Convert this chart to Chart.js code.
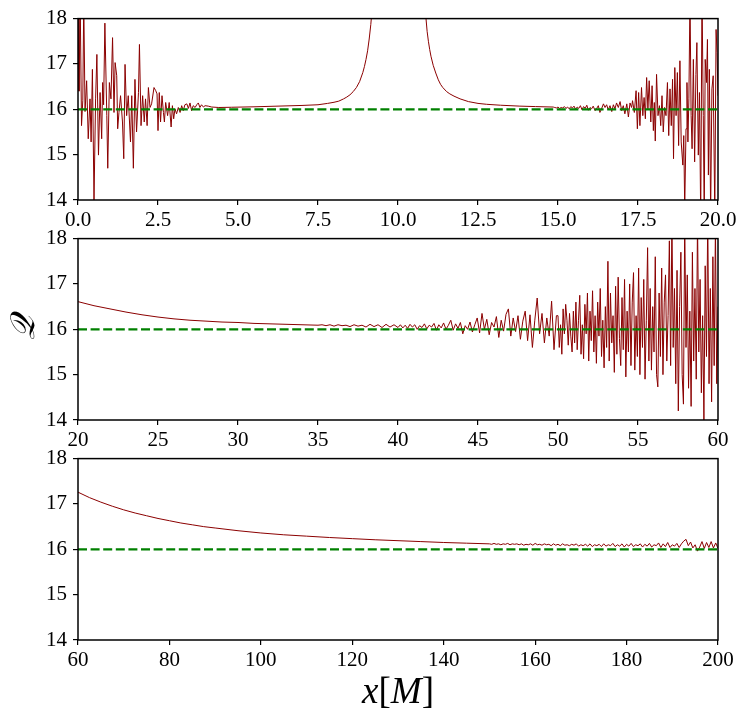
<!DOCTYPE html>
<html>
<head>
<meta charset="utf-8">
<script src="https://cdn.jsdelivr.net/npm/chart.js@4.4.0/dist/chart.umd.min.js"></script>
<style>
  html, body { margin: 0; padding: 0; background: #fff; }
  #wrap { position: relative; width: 747px; height: 721px; overflow: hidden; background: #fff; }
  canvas { position: absolute; left: 0; }
  #ylab { position: absolute; left: 22px; top: 328px; transform: translate(-50%, -50%) rotate(-90deg);
          font-family: 'DejaVu Serif', 'Liberation Serif', serif; font-style: italic; font-size: 34px; line-height: 34px; color: #000; white-space: nowrap; }
  #xlab { position: absolute; left: 78px; width: 640px; top: 670px; text-align: center;
          font-family: 'Liberation Serif', 'DejaVu Serif', serif; font-size: 37px; line-height: 42px; color: #000; }
</style>
</head>
<body>
<div id="wrap">
  <canvas id="c1" width="747" height="230" style="top:0px;width:747px;height:230px"></canvas>
  <canvas id="c2" width="747" height="230" style="top:220px;width:747px;height:230px"></canvas>
  <canvas id="c3" width="747" height="230" style="top:440px;width:747px;height:230px"></canvas>
  <div id="ylab">𝒬</div>
  <div id="xlab"><i>x</i>[<i>M</i>]</div>
</div>
<script>
// ---------------- data ----------------
const refLevel = 16;
const yTicks = [14, 15, 16, 17, 18];
const p1Ticks = [0, 2.5, 5, 7.5, 10, 12.5, 15, 17.5, 20];
const p2Ticks = [20, 25, 30, 35, 40, 45, 50, 55, 60];
const p3Ticks = [60, 80, 100, 120, 140, 160, 180, 200];

// panel 1, left of the pole
const p1LeftX = [0, 0.03, 0.07, 0.11, 0.15, 0.18, 0.22, 0.27, 0.32, 0.375,
  0.41, 0.45, 0.50, 0.55, 0.59, 0.64, 0.69, 0.74, 0.77, 0.80,
  0.84, 0.90, 0.93, 0.98, 1.03, 1.08, 1.125, 1.16, 1.21, 1.24,
  1.28, 1.33, 1.39, 1.43, 1.47, 1.52, 1.57, 1.64, 1.68, 1.73,
  1.78, 1.83, 1.89, 1.92, 1.97, 2.02, 2.07, 2.11, 2.16, 2.20,
  2.25, 2.30, 2.375, 2.43, 2.47, 2.50, 2.54, 2.58, 2.625, 2.67,
  2.70, 2.74, 2.80, 2.85, 2.91, 2.95, 2.99, 3.03, 3.08, 3.135,
  3.19, 3.24, 3.29, 3.34, 3.40, 3.45, 3.50, 3.55, 3.60, 3.66,
  3.71, 3.76, 3.81, 3.86, 3.92, 3.97, 4.07, 4.18,
  4.4, 4.8, 5.5, 6.0, 6.5, 7.0, 7.5, 7.8, 8.0, 8.15,
  8.3, 8.4, 8.5, 8.6, 8.7, 8.8, 8.9, 8.95, 9.0, 9.05,
  9.1, 9.15, 9.2, 9.3, 9.45];
const p1LeftY = [18.6, 16.4, 18.3, 15.64, 16.2, 18.4, 15.95, 16.63, 15.35, 16.23,
  15.28, 16.88, 14.0, 16.23, 17.21, 14.99, 16.37, 15.35, 16.59, 16.1,
  17.9, 15.86, 14.7, 16.59, 16.23, 17.58, 15.93, 17.03, 16.74, 15.57,
  15.93, 16.3, 15.72, 14.91, 16.99, 15.86, 16.3, 15.28, 16.3, 14.7,
  16.66, 15.5, 16.37, 17.43, 15.64, 16.3, 15.72, 16.23, 15.64, 16.48,
  16.04, 16.12, 16.48, 16.41, 16.34, 15.53, 16.37, 15.72, 16.3, 15.93,
  15.72, 16.15, 15.86, 16.15, 15.61, 16.08, 15.79, 16.01, 15.9, 16.04,
  15.93, 16.08, 15.97, 16.1, 16.12, 16.02, 16.14, 15.97, 16.08, 16.04,
  16.1, 16.14, 16.04, 16.1, 16.05, 16.08, 16.07, 16.05,
  16.04, 16.045, 16.055, 16.065, 16.075, 16.085, 16.1, 16.13, 16.155, 16.18,
  16.23, 16.27, 16.32, 16.39, 16.48, 16.61, 16.81, 16.94, 17.1, 17.29,
  17.55, 17.87, 18.28, 19.56, 22.5];

// panel 1, right of the pole
const p1RightX = [10.62, 10.72, 10.8, 10.875, 10.91, 10.95, 10.99, 11.03, 11.1, 11.18,
  11.26, 11.33, 11.4, 11.52, 11.62, 11.75, 11.94, 12.2, 12.5, 12.77, 13.2, 13.81, 14.3, 14.85,
  14.9, 14.95, 15.0, 15.05, 15.1, 15.15, 15.2, 15.25, 15.3, 15.35,
  15.4, 15.45, 15.5, 15.55, 15.6, 15.65, 15.7, 15.75, 15.8, 15.85, 15.9, 15.95,
  16.0, 16.05, 16.10, 16.16, 16.21, 16.26, 16.31, 16.36, 16.42, 16.47,
  16.52, 16.57, 16.625, 16.68, 16.73, 16.78, 16.83, 16.885, 16.94, 16.99,
  17.04, 17.09, 17.15, 17.20, 17.25, 17.30, 17.33, 17.385, 17.44, 17.48,
  17.52, 17.56, 17.61, 17.65, 17.69, 17.73, 17.77, 17.81, 17.85, 17.90,
  17.94, 17.98, 18.01, 18.04, 18.08, 18.125, 18.17, 18.21, 18.25, 18.29,
  18.33, 18.375, 18.42, 18.46, 18.5, 18.54, 18.58, 18.61, 18.65, 18.69,
  18.73, 18.77, 18.81, 18.85, 18.90, 18.93, 18.96, 19.0, 19.03, 19.06,
  19.09, 19.125, 19.16, 19.19, 19.23, 19.27, 19.31, 19.34, 19.385, 19.42,
  19.46, 19.5, 19.54, 19.57, 19.6, 19.64, 19.67, 19.70, 19.73, 19.77,
  19.81, 19.85, 19.90, 19.94, 19.97, 20.0];
const p1RightY = [22, 19.8, 18.6, 18.0, 17.72, 17.5, 17.32, 17.17, 16.97, 16.8,
  16.65, 16.55, 16.48, 16.39, 16.34, 16.29, 16.23, 16.17, 16.13, 16.11, 16.09, 16.07, 16.06, 16.05,
  16.04, 16.03, 16.05, 16.02, 16.04, 16.03, 16.06, 16.02, 16.05, 16.01,
  16.06, 16.03, 16.07, 16.0, 16.05, 16.02, 16.08, 15.99, 16.06, 16.02, 16.09, 15.98,
  16.04, 16.01, 16.07, 15.97, 16.02, 16.08, 15.93, 16.01, 16.12, 16.04,
  16.1, 15.99, 16.08, 15.95, 16.1, 16.01, 16.14, 16.04, 16.17, 15.97,
  16.08, 15.9, 16.12, 15.83, 16.14, 16.04, 16.19, 15.93, 16.41, 15.57,
  16.37, 15.64, 16.48, 15.86, 16.26, 15.79, 16.7, 16.01, 16.63, 15.72,
  16.52, 15.53, 16.15, 15.3, 16.77, 15.86, 16.08, 15.64, 16.3, 15.5,
  16.04, 15.86, 16.59, 15.42, 16.45, 15.64, 16.66, 14.91, 16.92, 15.86,
  16.81, 15.2, 17.07, 15.28, 14.77, 15.42, 13.8, 15.57, 16.59, 15.28,
  16.23, 18.5, 15.86, 15.13, 17.1, 14.84, 16.77, 17.47, 14.99, 16.37,
  13.6, 18.6, 15.86, 13.6, 17.1, 16.59, 17.54, 14.55, 16.88, 13.7,
  16.45, 16.74, 13.7, 17.76, 17.25, 16.3];

// panel 2
const p2X = [20, 21, 22, 23, 24, 25, 26, 27, 28, 29, 30, 31, 32, 33, 34, 35,
  35.25, 35.5, 35.75, 36, 36.25, 36.5, 36.75, 37, 37.25, 37.5, 37.75, 38, 38.25, 38.5, 38.75, 39, 39.25, 39.5, 39.75,
  40, 40.15, 40.3, 40.45, 40.6, 40.75, 40.9, 41.05, 41.2, 41.35,
  41.5, 41.65, 41.8, 41.95, 42.1, 42.25, 42.4, 42.55, 42.7, 42.85,
  43, 43.15, 43.3, 43.45, 43.6, 43.75, 43.9, 44.05, 44.2, 44.35,
  44.5, 44.65, 44.8, 44.95, 45.1, 45.25, 45.4, 45.55, 45.7, 45.85,
  46, 46.15, 46.3, 46.45, 46.6, 46.75, 46.9, 47.05, 47.2, 47.35,
  47.5, 47.65, 47.8, 47.95, 48.1, 48.25, 48.4, 48.55, 48.7, 48.85,
  49, 49.15, 49.3, 49.45, 49.6, 49.75, 49.9,
  50, 50.08, 50.16, 50.24, 50.32, 50.4, 50.48, 50.56, 50.64, 50.72, 50.8, 50.88, 50.96,
  51.04, 51.12, 51.2, 51.28, 51.36, 51.44, 51.52, 51.6, 51.68, 51.76, 51.84, 51.92,
  52, 52.08, 52.16, 52.24, 52.32, 52.4, 52.48, 52.56, 52.64, 52.72, 52.8, 52.88, 52.96,
  53.04, 53.12, 53.2, 53.28, 53.36, 53.44, 53.52, 53.6, 53.68, 53.76, 53.84, 53.92,
  54, 54.08, 54.16, 54.24, 54.32, 54.4, 54.48, 54.56, 54.64, 54.72, 54.8, 54.88, 54.96,
  55.04, 55.12, 55.2, 55.28, 55.36, 55.44, 55.52, 55.6, 55.68, 55.76, 55.84, 55.92,
  56, 56.08, 56.16, 56.24, 56.32, 56.4, 56.48, 56.56, 56.64, 56.72, 56.8, 56.88, 56.96,
  57.04, 57.12, 57.2, 57.28, 57.36, 57.44, 57.52, 57.6, 57.68, 57.76, 57.84, 57.92,
  58, 58.08, 58.16, 58.24, 58.32, 58.4, 58.48, 58.56, 58.64, 58.72, 58.8, 58.88, 58.96,
  59.04, 59.12, 59.2, 59.28, 59.36, 59.44, 59.52, 59.6, 59.68, 59.76, 59.84, 59.92,
  60];
const p2Y = [16.61, 16.52, 16.45, 16.38, 16.32, 16.27, 16.23, 16.2, 16.18, 16.16, 16.15, 16.13, 16.12, 16.11, 16.1, 16.09,
  16.1, 16.08, 16.1, 16.07, 16.1, 16.08, 16.09, 16.06, 16.1, 16.07, 16.09, 16.05, 16.11, 16.06, 16.1, 16.04, 16.11, 16.05, 16.1,
  16.04, 16.1, 16.03, 16.09, 16.02, 16.11, 16.05, 16.1, 16.0, 16.08,
  16.04, 16.12, 16.01, 16.09, 16.05, 16.13, 15.98, 16.1, 16.03, 16.14,
  16.0, 16.09, 16.2, 15.98, 16.12, 16.02, 16.15, 15.9, 16.08, 16.0,
  16.16, 15.94, 16.1, 16.25, 15.92, 16.35, 16.0, 16.22, 15.88, 16.15,
  16.05, 16.28, 15.82, 16.2, 15.96, 16.33, 16.45, 15.85, 16.25, 15.95,
  16.3, 15.78, 16.18, 16.4, 15.75, 16.32, 15.6, 16.2, 16.69, 15.9,
  16.35, 15.7, 16.25, 15.85, 16.62, 15.55, 16.3,
  16.3, 15.6, 16.1, 15.45, 16.45, 15.9, 16.55, 16.2, 15.65, 16.35, 15.85, 15.5, 16.4,
  15.7, 16.6, 15.55, 16.2, 16.75, 15.45, 16.1, 15.35, 16.55, 15.9, 16.8, 15.3,
  16.4, 15.75, 16.85, 15.5, 16.3, 15.25, 16.6, 15.85, 16.9, 15.4, 16.2, 15.15, 16.5,
  15.6, 17.5, 15.3, 16.8, 15.7, 16.3, 15.05, 16.95, 15.45, 17.15, 15.8, 15.2,
  16.7, 15.55, 17.1, 14.95, 16.4, 15.5, 17.0, 15.2, 16.6, 17.25, 15.1, 16.3, 15.4,
  17.35, 15.0, 16.7, 15.6, 17.1, 14.9, 16.2, 17.8, 15.3, 16.9, 15.1, 16.5,
  15.5, 17.6, 15.0, 14.73, 16.8, 15.4, 17.35, 15.0, 16.6, 17.2, 15.3, 16.3, 17.95,
  15.2, 18.4, 15.6, 16.9, 14.8, 17.3, 14.2, 16.5, 17.7, 15.0, 14.35, 18.4,
  15.6, 17.2, 14.7, 16.4, 14.3, 17.7, 15.3, 16.9, 14.9, 18.4, 15.5, 17.1, 14.6,
  16.3, 14.0, 17.4, 15.4, 18.5, 14.8, 16.9, 14.4, 17.6, 15.2, 18.3, 14.8,
  16.5];

// panel 3
const p3X = [60, 62.5, 65, 67.5, 70, 72.5, 75, 77.5, 80, 82.5, 85, 87.5, 90, 95, 100, 105, 110, 115, 120, 125, 130, 135, 140, 145,
  150, 150.5, 151, 151.5, 152, 152.5, 153, 153.5, 154, 154.5,
  155, 155.5, 156, 156.5, 157, 157.5, 158, 158.5, 159, 159.5,
  160, 160.5, 161, 161.5, 162, 162.5, 163, 163.5, 164, 164.5,
  165, 165.5, 166, 166.5, 167, 167.5, 168, 168.5, 169, 169.5,
  170, 170.5, 171, 171.5, 172, 172.5, 173, 173.5, 174, 174.5,
  175, 175.5, 176, 176.5, 177, 177.5, 178, 178.5, 179, 179.5,
  180, 180.5, 181, 181.5, 182, 182.5, 183, 183.5, 184, 184.5,
  185, 185.5, 186, 186.5, 187, 187.5, 188, 188.5, 189, 189.5,
  190, 190.5, 191, 191.5, 192, 192.5, 193, 193.5, 194, 194.5,
  195, 195.5, 196, 196.5, 197, 197.5, 198, 198.5, 199, 199.5, 200];
const p3Y = [17.26, 17.14, 17.04, 16.95, 16.87, 16.8, 16.74, 16.68, 16.63, 16.58, 16.54, 16.5, 16.47, 16.41, 16.36, 16.32, 16.29, 16.26, 16.235, 16.21, 16.19, 16.17, 16.15, 16.135,
  16.12, 16.11, 16.13, 16.11, 16.12, 16.1, 16.12, 16.11, 16.13, 16.1,
  16.12, 16.11, 16.12, 16.1, 16.12, 16.09, 16.11, 16.1, 16.12, 16.09,
  16.13, 16.1, 16.11, 16.09, 16.12, 16.1, 16.11, 16.08, 16.12, 16.09,
  16.11, 16.08, 16.12, 16.09, 16.1, 16.08, 16.11, 16.09, 16.12, 16.07,
  16.1, 16.08, 16.11, 16.07, 16.12, 16.06, 16.1, 16.08, 16.11, 16.06,
  16.12, 16.07, 16.1, 16.08, 16.13, 16.06, 16.1, 16.07, 16.12, 16.05,
  16.11, 16.07, 16.13, 16.06, 16.1, 16.08, 16.12, 16.05, 16.11, 16.07,
  16.13, 16.05, 16.1, 16.08, 16.14, 16.04, 16.12, 16.06, 16.15, 16.04,
  16.1, 16.07, 16.13, 16.04, 16.12, 16.18, 16.22, 16.08, 16.16, 16.03,
  16.1, 15.96, 16.05, 16.17, 16.02, 16.15, 16.04, 16.17, 16.03, 16.14, 16.02];

// ---------------- drawing ----------------
const RED = '#8b0000', GREEN = '#008000';
const FONT = { family: "'Liberation Serif', 'DejaVu Serif', serif", size: 21 };
const pts = (xs, ys) => xs.map((x, i) => ({ x: x, y: ys[i] }));

const framePlugin = {
  id: 'frame',
  afterDatasetsDraw(chart) {
    const { ctx, chartArea: a } = chart;
    ctx.save();
    ctx.strokeStyle = '#000';
    ctx.lineWidth = 1.5;
    ctx.strokeRect(a.left, a.top, a.right - a.left, a.bottom - a.top);
    ctx.restore();
  }
};

function makePanel(id, xmin, xmax, xticks, fmt, series) {
  const datasets = series.map(s => ({
    data: s, borderColor: RED, borderWidth: 1, pointRadius: 0, tension: 0, fill: false, order: 2
  }));
  datasets.unshift({
    data: [{ x: xmin, y: refLevel }, { x: xmax, y: refLevel }],
    borderColor: GREEN, borderWidth: 2.2, borderDash: [9, 3.6], pointRadius: 0, fill: false, order: 0
  });
  const axisCommon = {
    grid: { display: true, drawOnChartArea: false, drawTicks: true, tickLength: 5, color: '#000', lineWidth: 1.2 },
    border: { display: false }
  };
  return new Chart(document.getElementById(id), {
    type: 'line',
    data: { datasets: datasets },
    plugins: [framePlugin],
    options: {
      responsive: false,
      animation: false,
      events: [],
      layout: { padding: { left: 0, right: 29, top: 17.5, bottom: 0 } },
      plugins: { legend: { display: false }, tooltip: { enabled: false } },
      scales: {
        x: Object.assign({
          type: 'linear', min: xmin, max: xmax,
          afterBuildTicks: s => { s.ticks = xticks.map(v => ({ value: v })); },
          afterFit: s => { s.height = 30; },
          ticks: { font: FONT, color: '#000', padding: 3, maxRotation: 0, autoSkip: false, callback: v => fmt(v) }
        }, axisCommon),
        y: Object.assign({
          type: 'linear', min: 14, max: 18,
          afterBuildTicks: s => { s.ticks = yTicks.map(v => ({ value: v })); },
          afterFit: s => { s.width = 78; },
          ticks: { font: FONT, color: '#000', padding: 6, autoSkip: false, callback: v => String(v) }
        }, axisCommon)
      }
    }
  });
}

makePanel('c1', 0, 20, p1Ticks, v => v.toFixed(1), [pts(p1LeftX, p1LeftY), pts(p1RightX, p1RightY)]);
makePanel('c2', 20, 60, p2Ticks, v => String(v), [pts(p2X, p2Y)]);
makePanel('c3', 60, 200, p3Ticks, v => String(v), [pts(p3X, p3Y)]);
</script>
</body>
</html>
